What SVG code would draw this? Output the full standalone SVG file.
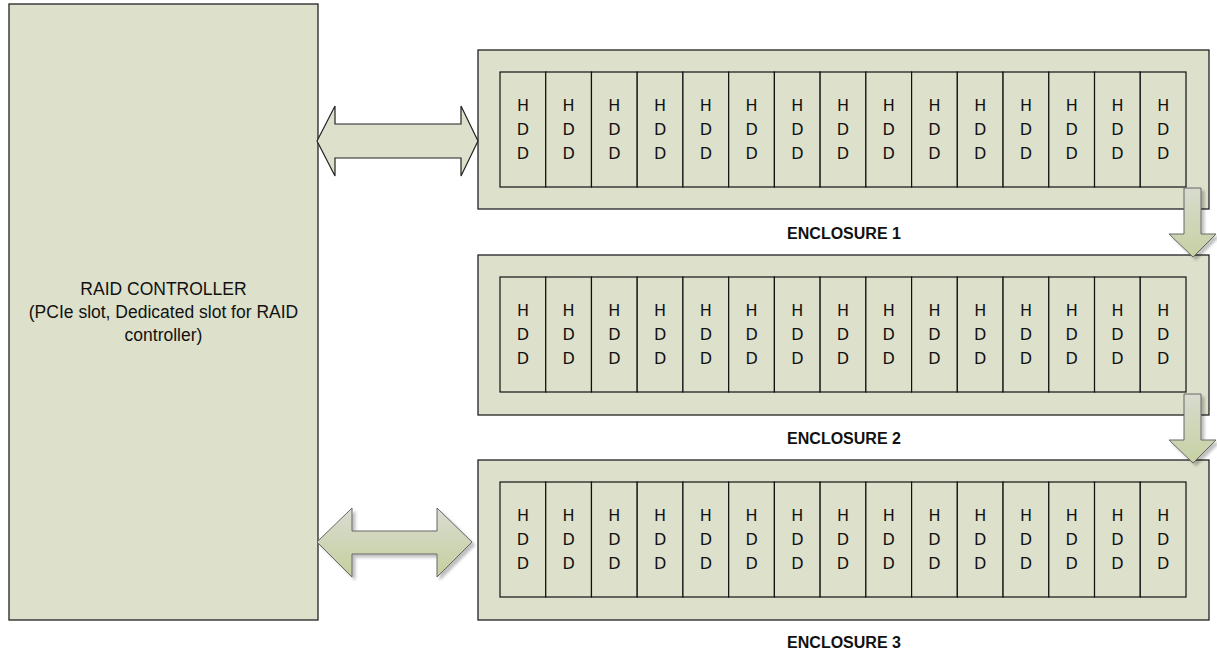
<svg xmlns="http://www.w3.org/2000/svg" width="1217" height="653" viewBox="0 0 1217 653">
<style>
.box{fill:#dde0cb;stroke:#222;stroke-width:1.3}
.slot{fill:#dde0cb;stroke:#111;stroke-width:1.2}
.hdd{font-family:"DejaVu Sans",sans-serif;font-size:16px;fill:#111;text-anchor:middle}
.lbl{font-family:"Liberation Sans",sans-serif;font-size:16px;font-weight:bold;fill:#111;text-anchor:middle}
.ctl{font-family:"Liberation Sans",sans-serif;font-size:17.5px;fill:#111;text-anchor:middle}
.garrow{stroke:#666;stroke-width:1;filter:url(#sh)}
</style>
<defs>
<linearGradient id="gv" x1="0" y1="0" x2="0" y2="1">
<stop offset="0" stop-color="#dadcd2"/>
<stop offset="1" stop-color="#c4cf9c"/>
</linearGradient>
<linearGradient id="gd" x1="0" y1="0" x2="0" y2="1">
<stop offset="0" stop-color="#d8dbcf"/>
<stop offset="1" stop-color="#c6d1a2"/>
</linearGradient>
<filter id="sh" x="-20%" y="-20%" width="150%" height="150%">
<feGaussianBlur in="SourceAlpha" stdDeviation="1.5"/>
<feOffset dx="3" dy="3" result="b"/>
<feComponentTransfer><feFuncA type="linear" slope="0.25"/></feComponentTransfer>
<feMerge><feMergeNode/><feMergeNode in="SourceGraphic"/></feMerge>
</filter>
<g id="slot">
<rect class="slot" x="0" y="0" width="45.73" height="115"/>
<text class="hdd" x="22.9" y="39">H</text>
<text class="hdd" x="22.9" y="63">D</text>
<text class="hdd" x="22.9" y="87">D</text>
</g>
<g id="row">
<use href="#slot" x="0"/><use href="#slot" x="45.73"/><use href="#slot" x="91.47"/><use href="#slot" x="137.2"/><use href="#slot" x="182.93"/>
<use href="#slot" x="228.67"/><use href="#slot" x="274.4"/><use href="#slot" x="320.13"/><use href="#slot" x="365.87"/><use href="#slot" x="411.6"/>
<use href="#slot" x="457.33"/><use href="#slot" x="503.07"/><use href="#slot" x="548.8"/><use href="#slot" x="594.53"/><use href="#slot" x="640.27"/>
</g>
</defs>
<rect width="1217" height="653" fill="#fff"/>

<g id="controller">
<rect class="box" x="9" y="4" width="309" height="616"/>
<text class="ctl" x="163.5" y="295">RAID CONTROLLER</text>
<text class="ctl" x="163.5" y="318">(PCIe slot, Dedicated slot for RAID</text>
<text class="ctl" x="163.5" y="341">controller)</text>
</g>

<g id="enclosure1">
<rect class="box" x="478" y="50" width="731" height="159"/>
<use href="#row" x="500" y="72"/>
<text class="lbl" x="844" y="239">ENCLOSURE 1</text>
</g>

<g id="enclosure2">
<rect class="box" x="478" y="255" width="731" height="160"/>
<use href="#row" x="500" y="277"/>
<text class="lbl" x="844" y="444">ENCLOSURE 2</text>
</g>

<g id="enclosure3">
<rect class="box" x="478" y="460" width="731" height="160"/>
<use href="#row" x="500" y="482"/>
<text class="lbl" x="844" y="648">ENCLOSURE 3</text>
</g>

<g id="connectors">
<path d="M317,141 L335,106 L335,124 L461,124 L461,106 L478,141 L461,176 L461,158 L335,158 L335,176 Z" fill="#dde0cb" stroke="#222" stroke-width="1.2"/>
<path class="garrow" d="M317,542 L352,508 L352,531 L437,531 L437,508 L472,542 L437,577 L437,554 L352,554 L352,577 Z" fill="url(#gv)"/>
<path class="garrow" d="M1184,188 L1201,188 L1201,234 L1216,234 L1193,257 L1169,234 L1184,234 Z" fill="url(#gd)"/>
<path class="garrow" d="M1184,394 L1201,394 L1201,440 L1216,440 L1193,463 L1169,440 L1184,440 Z" fill="url(#gd)"/>
</g>
</svg>
